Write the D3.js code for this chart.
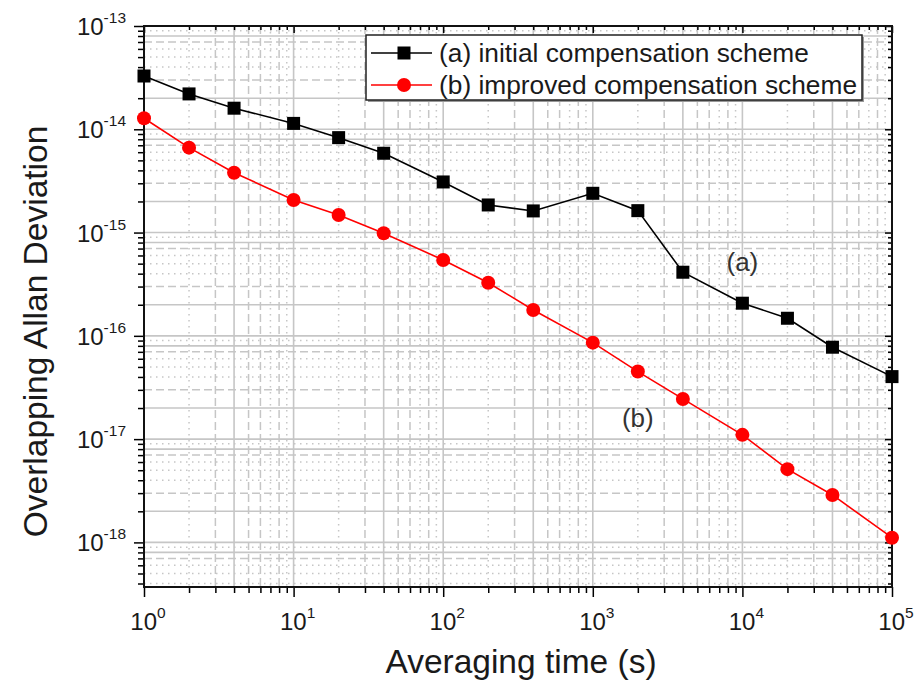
<!DOCTYPE html>
<html>
<head>
<meta charset="utf-8">
<script src="https://cdn.jsdelivr.net/npm/d3@7"></script>
<style>
  body { margin: 0; background: #fff; }
  svg { display: block; font-family: "Liberation Sans", Arial, Helvetica, sans-serif; }
</style>
</head>
<body>
<svg id="chart" width="918" height="684"></svg>
<script>
// Averaging times (s)
const tau = [1, 2, 4, 10, 20, 40, 100, 200, 400, 1000, 2000, 4000, 10000, 20000, 40000, 100000];
// (a) initial compensation scheme
const adevInitial = [3.28e-14, 2.20e-14, 1.60e-14, 1.14e-14, 8.3e-15, 5.86e-15, 3.09e-15, 1.85e-15,
                     1.62e-15, 2.40e-15, 1.63e-15, 4.13e-16, 2.07e-16, 1.48e-16, 7.76e-17, 4.03e-17];
// (b) improved compensation scheme
const adevImproved = [1.28e-14, 6.64e-15, 3.80e-15, 2.07e-15, 1.48e-15, 9.84e-16, 5.43e-16, 3.27e-16,
                      1.78e-16, 8.59e-17, 4.51e-17, 2.45e-17, 1.10e-17, 5.12e-18, 2.88e-18, 1.11e-18];
const seriesNames = ["(a) initial compensation scheme", "(b) improved compensation scheme"];
const xTickExponents = [0, 1, 2, 3, 4, 5];
const yTickExponents = [-13, -14, -15, -16, -17, -18];
const xDomain = [1, 1e5];
const yDomain = [3.7e-19, 1e-13];
const curveLabels = [
  { text: "(a)", tau: 1e4, value: 5.2e-16 },
  { text: "(b)", tau: 2000, value: 1.6e-17 }
];

const svg = d3.select("#chart");
const plot = { left: 144, right: 892, top: 26, bottom: 587 };

const x = d3.scaleLog().domain(xDomain).range([plot.left, plot.right]);
const y = d3.scaleLog().domain(yDomain).range([plot.bottom, plot.top]);

// all 1..9 x 10^n values that fall within a domain
function logSteps(domain) {
  const out = [];
  const lo = Math.floor(Math.log10(domain[0])), hi = Math.ceil(Math.log10(domain[1]));
  for (let e = lo; e <= hi; e++) {
    for (let k = 1; k <= 9; k++) {
      const v = k * Math.pow(10, e);
      if (v >= domain[0] * 0.9999 && v <= domain[1] * 1.0001) out.push({ v, k });
    }
  }
  return out;
}

// grid line appearance per mantissa
const gridColor = "#c6c6c6";
const styles = {
  solid: { dash: null, w: 1.6 },
  dashed: { dash: "8,4", w: 1.5 },
  dotted: { dash: "1.5,4.5", w: 1.5 }
};
const yGridStyle = { 1: "solid", 2: "solid", 3: "dashed", 4: "dotted", 5: "dotted", 6: "dotted", 7: "dashed", 8: "solid", 9: "dotted" };
const xGridStyle = { 1: "solid", 2: "dotted", 3: "dashed", 4: "solid", 5: "dashed", 6: "dashed", 7: "dotted", 8: "dashed", 9: "dotted" };

const grid = svg.append("g").attr("class", "grid");
logSteps(yDomain).forEach(d => {
  const s = styles[yGridStyle[d.k]];
  grid.append("line")
    .attr("x1", plot.left).attr("x2", plot.right)
    .attr("y1", y(d.v)).attr("y2", y(d.v))
    .attr("stroke", gridColor).attr("stroke-width", s.w)
    .attr("stroke-dasharray", s.dash);
});
logSteps(xDomain).forEach(d => {
  const s = styles[xGridStyle[d.k]];
  grid.append("line")
    .attr("y1", plot.top).attr("y2", plot.bottom)
    .attr("x1", x(d.v)).attr("x2", x(d.v))
    .attr("stroke", gridColor).attr("stroke-width", s.w)
    .attr("stroke-dasharray", s.dash);
});

// axes with major and minor ticks
const xMajor = xTickExponents.map(e => Math.pow(10, e));
const yMajor = yTickExponents.map(e => Math.pow(10, e));
const xMinor = logSteps(xDomain).filter(d => d.k !== 1).map(d => d.v);
const yMinor = logSteps(yDomain).filter(d => d.k !== 1).map(d => d.v);

function drawAxis(axisFn, scale, values, size, transform) {
  svg.append("g")
    .attr("transform", transform)
    .call(axisFn(scale).tickValues(values).tickSize(size).tickFormat(""))
    .call(g => g.select(".domain").remove())
    .call(g => g.selectAll("line").attr("stroke", "#000").attr("stroke-width", 1.5));
}
drawAxis(d3.axisBottom, x, xMajor, 10, `translate(0,${plot.bottom})`);
drawAxis(d3.axisBottom, x, xMinor, 6, `translate(0,${plot.bottom})`);
drawAxis(d3.axisLeft, y, yMajor, 10, `translate(${plot.left},0)`);
drawAxis(d3.axisLeft, y, yMinor, 6, `translate(${plot.left},0)`);
drawAxis(d3.axisBottom, x, xMajor, 7, `translate(0,${plot.top})`);
drawAxis(d3.axisBottom, x, xMinor, 4, `translate(0,${plot.top})`);
drawAxis(d3.axisLeft, y, yMajor, 7, `translate(${plot.right},0)`);
drawAxis(d3.axisLeft, y, yMinor, 4, `translate(${plot.right},0)`);

// frame
svg.append("rect")
  .attr("x", plot.left).attr("y", plot.top)
  .attr("width", plot.right - plot.left).attr("height", plot.bottom - plot.top)
  .attr("fill", "none").attr("stroke", "#111").attr("stroke-width", 2);

// power-of-ten tick labels
const tickColor = "#1a1a1a";
xTickExponents.forEach(e => {
  const t = svg.append("text")
    .attr("x", x(Math.pow(10, e)) + 4).attr("y", 630)
    .attr("text-anchor", "middle").attr("fill", tickColor)
    .attr("font-size", 24);
  t.append("tspan").text("10");
  t.append("tspan").attr("dy", -12).attr("font-size", 15.5).text(e);
});
yTickExponents.forEach(e => {
  const t = svg.append("text")
    .attr("x", 126).attr("y", y(Math.pow(10, e)) + 9)
    .attr("text-anchor", "end").attr("fill", tickColor)
    .attr("font-size", 24);
  t.append("tspan").text("10");
  t.append("tspan").attr("dy", -12).attr("font-size", 15.5).text(e);
});

// axis titles
svg.append("text")
  .attr("x", (plot.left + plot.right) / 2 + 3).attr("y", 673)
  .attr("text-anchor", "middle").attr("font-size", 33.5).attr("fill", "#1a1a1a")
  .text("Averaging time (s)");
svg.append("text")
  .attr("transform", `translate(47,${(plot.top + plot.bottom) / 2 + 25}) rotate(-90)`)
  .attr("text-anchor", "middle").attr("font-size", 33.5).attr("fill", "#1a1a1a")
  .text("Overlapping Allan Deviation");

// data series
const series = [
  { name: seriesNames[0], values: adevInitial, color: "#000000", marker: "square" },
  { name: seriesNames[1], values: adevImproved, color: "#ff0000", marker: "circle" }
];
const line = d3.line().x(d => x(d[0])).y(d => y(d[1]));

function drawMarker(g, marker, color, cx, cy) {
  if (marker === "square") {
    g.append("rect").attr("x", cx - 6.5).attr("y", cy - 6.5)
      .attr("width", 13).attr("height", 13).attr("fill", color);
  } else {
    g.append("circle").attr("cx", cx).attr("cy", cy).attr("r", 7).attr("fill", color);
  }
}

series.forEach(s => {
  const pts = tau.map((t, i) => [t, s.values[i]]);
  const g = svg.append("g");
  g.append("path").attr("d", line(pts)).attr("fill", "none")
    .attr("stroke", s.color).attr("stroke-width", 1.6);
  pts.forEach(p => drawMarker(g, s.marker, s.color, x(p[0]), y(p[1])));
});

// curve labels
curveLabels.forEach(c => {
  svg.append("text").attr("x", x(c.tau)).attr("y", y(c.value) + 9)
    .attr("text-anchor", "middle").attr("font-size", 26).attr("fill", "#333")
    .text(c.text);
});

// legend
const legend = svg.append("g");
legend.append("rect").attr("x", 368).attr("y", 37).attr("width", 496).attr("height", 65)
  .attr("fill", "#999");
legend.append("rect").attr("x", 366).attr("y", 35).attr("width", 496).attr("height", 65)
  .attr("fill", "#fff").attr("stroke", "#222").attr("stroke-width", 1.5);
series.forEach((s, i) => {
  const cy = 53 + i * 32;
  legend.append("line").attr("x1", 371).attr("x2", 432).attr("y1", cy).attr("y2", cy)
    .attr("stroke", s.color).attr("stroke-width", 1.6);
  drawMarker(legend, s.marker, s.color, 404, cy);
  legend.append("text").attr("x", 439).attr("y", cy + 9)
    .attr("font-size", 26.3).attr("fill", "#1a1a1a").text(s.name);
});
</script>
</body>
</html>
